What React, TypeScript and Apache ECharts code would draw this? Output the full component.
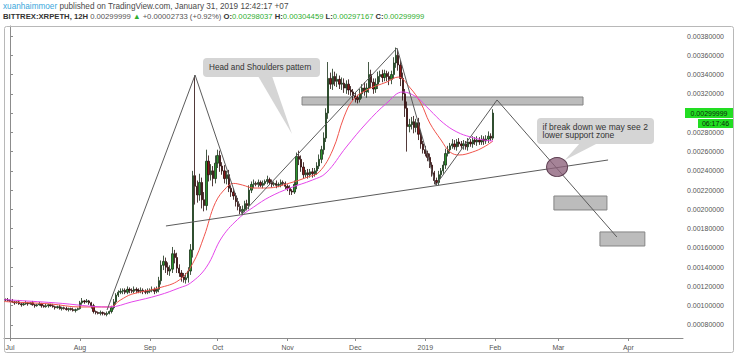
import React, { useEffect, useRef } from "react";
import * as echarts from "echarts";

const UNIT = 1e-5; // prices below are in units of 0.00001 ETH; x is days since 1 Jul 2018

const firstDay = -2; // first candle: 29 Jun 2018
const firstOpen = 106.5;
const closes = [
  106, 105.5,
  105, 104, 103, 104, 102, 101, 102, 103, 102, 103, 101, 100, 101, 102, 100, 99, 100, 101, 100, 99, 98, 99, 97, 98, 97, 96, 97, 96, 95, 96, 97,
  103, 105, 104, 105, 103, 100, 94, 93, 92, 93, 92, 91, 92, 94, 98, 104, 111, 114, 115, 116, 114, 117, 116, 115, 117, 116, 115, 116, 115, 114, 115,
  116, 117, 115, 117, 126, 142, 146, 140, 136, 138, 154, 150, 139, 134, 130, 127, 129, 136, 158, 235, 224, 215, 228, 210, 204, 250, 236, 240, 232, 248,
  256, 245, 240, 232, 236, 222, 218, 214, 208, 203, 198, 200, 206, 204, 220, 226, 227, 226, 228, 225, 227, 229, 231, 228, 226, 227, 225, 226, 228, 227, 224,
  222, 219, 218, 226, 255, 252, 244, 236, 238, 236, 239, 237, 240, 245, 252, 262, 274, 300, 336, 330, 338, 333, 335, 330, 331, 326, 330, 324, 322, 318,
  316, 314, 320, 326, 322, 326, 340, 332, 325, 330, 338, 340, 337, 341, 338, 335, 340, 352, 360, 350, 336, 320, 305, 286, 288, 291, 285, 290, 278, 268, 262,
  258, 254, 246, 238, 230, 228, 236, 240, 246, 258, 262, 266, 268, 265, 270, 268, 266, 268, 265, 270, 268, 272, 270, 272, 270, 273, 271, 273, 276, 274, 300,
];
const wickUp = [
  1, 2,
  1, 2, 1, 1, 2, 1, 1, 2, 1, 1, 2, 1, 1, 2, 1, 1, 2, 1, 1, 2, 1, 1, 2, 1, 1, 2, 1, 1, 2, 1, 1,
  2, 3, 1, 2, 1, 1, 2, 1, 1, 2, 1, 1, 2, 1, 2, 3, 2, 2, 3, 2, 2, 3, 2, 2, 3, 2, 2, 3, 2, 2, 3,
  2, 3, 2, 3, 4, 5, 6, 4, 5, 4, 7, 4, 5, 4, 3, 4, 5, 4, 6, 5, 104, 6, 9, 5, 8, 12, 6, 7, 5, 8,
  6, 5, 4, 6, 4, 5, 3, 4, 3, 4, 3, 4, 3, 4, 5, 3, 4, 2, 3, 2, 3, 2, 4, 2, 3, 2, 3, 2, 3, 2, 2,
  2, 3, 2, 4, 4, 6, 4, 5, 3, 4, 3, 4, 3, 4, 5, 4, 6, 5, 17, 6, 8, 5, 6, 4, 6, 5, 4, 5, 4, 3,
  4, 3, 5, 4, 6, 5, 13, 5, 4, 6, 5, 4, 5, 4, 3, 5, 4, 6, 8, 6, 5, 6, 5, 7, 6, 5, 6, 4, 5, 4, 3,
  4, 3, 4, 3, 2, 3, 4, 3, 4, 5, 4, 3, 5, 4, 3, 4, 3, 4, 3, 4, 3, 4, 3, 4, 3, 4, 3, 4, 5, 3, 4,
];
const wickDown = [
  1, 1,
  1, 1, 2, 1, 1, 2, 1, 1, 2, 1, 1, 2, 1, 1, 2, 1, 1, 2, 1, 1, 2, 1, 1, 2, 1, 1, 2, 1, 1, 2, 1,
  1, 2, 2, 1, 2, 3, 2, 2, 1, 2, 2, 1, 2, 1, 2, 2, 3, 2, 2, 3, 2, 2, 3, 2, 2, 3, 2, 2, 3, 2, 2,
  2, 2, 3, 2, 3, 4, 5, 6, 4, 5, 4, 6, 5, 4, 5, 3, 4, 5, 4, 8, 19, 8, 6, 9, 6, 5, 7, 6, 8, 5,
  5, 6, 4, 5, 6, 4, 5, 4, 5, 4, 3, 4, 3, 5, 4, 3, 4, 2, 3, 2, 3, 2, 3, 2, 3, 2, 3, 2, 3, 2, 3,
  3, 4, 3, 2, 5, 6, 5, 4, 3, 4, 3, 4, 3, 4, 3, 4, 5, 4, 6, 5, 6, 5, 6, 5, 6, 5, 6, 5, 4, 5,
  5, 4, 3, 5, 4, 6, 5, 6, 5, 4, 5, 6, 5, 4, 5, 6, 5, 4, 5, 6, 8, 7, 9, 26, 6, 5, 6, 5, 6, 5, 4,
  3, 4, 3, 4, 4, 3, 3, 4, 3, 4, 3, 4, 3, 3, 4, 3, 3, 4, 3, 4, 3, 4, 3, 4, 3, 3, 4, 3, 4, 3, 2,
];

// moving averages (day offset from Jul 1, value)
const redDays = [-2.66, 0, 18, 31, 44, 49, 54, 66, 75, 81, 86, 91, 96, 99, 103, 108, 114, 124, 132, 137, 143, 148, 152, 158, 167, 172, 177, 182, 186, 191, 195, 199, 205, 210, 214];
const redVals = [104.4, 104, 101.8, 98.7, 98.7, 106, 112, 118.5, 126.7, 144, 172, 207, 223, 227, 225.3, 222.2, 222.2, 227.4, 233.7, 238.8, 261.7, 296, 313.6, 324, 332.3, 337.4, 327, 310.5, 289.7, 272, 259.6, 256.5, 259.6, 264.8, 271];
const magDays = [-2.66, 0, 20, 44, 54, 66, 75, 80, 87, 94, 102, 108, 115, 124, 134, 140, 149, 158, 167, 174, 180, 186, 192, 198, 204, 210, 214];
const magVals = [106.4, 106, 103, 98.7, 104, 111, 118.5, 123.6, 140, 171.4, 192.1, 202.5, 212.9, 222.2, 230.5, 237.8, 264.8, 289.7, 310.5, 321.9, 316.7, 303.2, 289.7, 280.4, 275.2, 272, 271];

const monthDays = [0, 31, 62, 92, 123, 153, 184, 215, 243, 274];
const monthLabels = ["Jul", "Aug", "Sep", "Oct", "Nov", "Dec", "2019", "Feb", "Mar", "Apr"];
const priceTicks = [0.0008, 0.001, 0.0012, 0.0014, 0.0016, 0.0018, 0.002, 0.0022, 0.0024, 0.0026, 0.0028, 0.003, 0.0032, 0.0034, 0.0036, 0.0038];
// the 0.0030 label sits under the last-price tag, so it is not printed
const priceLabels = [0.0008, 0.001, 0.0012, 0.0014, 0.0016, 0.0018, 0.002, 0.0022, 0.0024, 0.0026, 0.0028, 0.0032, 0.0034, 0.0036, 0.0038];

// drawings
const patternDays = [43, 82, 102.8, 171.5, 188.7, 215.8, 268.9];
const patternVals = [95.6, 339.5, 195.3, 367.5, 225.4, 313.6, 171.4];
const necklineDays = [69.1, 265];
const necklineVals = [182.8, 251.3];
const zoneDays = [[129.4, 253.9], [241, 264.5], [261.4, 281.3]];
const zoneVals = [[316.7, 308.4], [213.9, 199.4], [176.6, 162]];
const circleDay = 242.4;
const circleVal = 244;
const lastPrice = 0.00299999;

const FONT = "Liberation Sans";

function buildOption() {
  const candles = closes.map((c, i) => {
    const o = i === 0 ? firstOpen : closes[i - 1];
    const hi = Math.max(o, c) + wickUp[i];
    const lo = Math.min(o, c) - wickDown[i];
    return [firstDay + i, o * UNIT, c * UNIT, lo * UNIT, hi * UNIT];
  });
  const labelFor = (v: number) => {
    let best = 0;
    monthDays.forEach((m, i) => {
      if (Math.abs(m - v) < Math.abs(monthDays[best] - v)) best = i;
    });
    return monthLabels[best];
  };
  const bubble = "#d5d5d5";
  return {
    animation: false,
    grid: { left: 4, right: 53, top: 26, bottom: 17 },
    xAxis: {
      type: "value",
      min: -2.66,
      max: 298.2,
      splitLine: { show: false },
      axisLine: { show: true, lineStyle: { color: "#8c8c8c", width: 1 } },
      axisTick: { show: true, customValues: monthDays, length: 3, lineStyle: { color: "#8c8c8c" } },
      axisLabel: {
        customValues: monthDays,
        formatter: (v: number) => labelFor(v),
        fontSize: 7,
        color: "#555",
        fontFamily: FONT,
        margin: 6,
      },
    },
    yAxis: {
      type: "value",
      position: "right",
      min: 0.000665,
      max: 0.003904,
      splitLine: { show: false },
      axisLine: { show: true, lineStyle: { color: "#8c8c8c", width: 1 } },
      axisTick: { show: true, customValues: priceTicks, length: 3, lineStyle: { color: "#8c8c8c" } },
      axisLabel: {
        customValues: priceLabels,
        formatter: (v: number) => v.toFixed(8),
        fontSize: 7,
        color: "#555",
        fontFamily: FONT,
        margin: 4,
      },
    },
    series: [
      {
        type: "candlestick",
        data: candles,
        barWidth: 1.8,
        z: 2,
        itemStyle: {
          color: "#2c962c",
          color0: "#8a1818",
          borderColor: "#163016",
          borderColor0: "#260808",
          borderWidth: 0.8,
        },
        markLine: {
          silent: true,
          symbol: ["none", "none"],
          label: { show: false },
          lineStyle: { color: "#8ee88e", width: 1, type: "solid" },
          data: [{ yAxis: lastPrice }],
        },
      },
      {
        type: "line",
        data: redDays.map((d, i) => [d, redVals[i] * UNIT]),
        smooth: 0.4,
        symbol: "none",
        z: 3,
        lineStyle: { color: "#f0544c", width: 1 },
      },
      {
        type: "line",
        data: magDays.map((d, i) => [d, magVals[i] * UNIT]),
        smooth: 0.4,
        symbol: "none",
        z: 3,
        lineStyle: { color: "#e447ea", width: 1 },
      },
      {
        type: "line",
        data: [],
        z: 4,
        markArea: {
          silent: true,
          itemStyle: { color: "rgba(176,176,176,0.85)", borderColor: "#858585", borderWidth: 1 },
          data: zoneDays.map((zd, i) => [
            { xAxis: zd[0], yAxis: zoneVals[i][0] * UNIT },
            { xAxis: zd[1], yAxis: zoneVals[i][1] * UNIT },
          ]),
        },
      },
      {
        type: "line",
        data: patternDays.map((d, i) => [d, patternVals[i] * UNIT]),
        symbol: "none",
        z: 5,
        lineStyle: { color: "#5b5b5b", width: 1 },
      },
      {
        type: "line",
        data: necklineDays.map((d, i) => [d, necklineVals[i] * UNIT]),
        symbol: "none",
        z: 5,
        lineStyle: { color: "#5b5b5b", width: 1 },
      },
      {
        type: "scatter",
        data: [[circleDay, circleVal * UNIT]],
        symbol: "circle",
        symbolSize: [21, 19],
        z: 6,
        itemStyle: { color: "rgba(140,96,122,0.78)", borderColor: "#5e3f52", borderWidth: 1, opacity: 1 },
      },
    ],
    graphic: [
      {
        type: "rect",
        shape: { x: 4.5, y: 26.5, width: 729, height: 326, r: 2 },
        style: { fill: "none", stroke: "#b8b8b8", lineWidth: 1 },
        z: 1,
        silent: true,
      },
      {
        type: "text",
        x: 3,
        y: 6,
        style: {
          text: "{u|xuanhaimmoer}{t| published on TradingView.com, January 31, 2019 12:42:17 +07}",
          verticalAlign: "middle",
          rich: {
            u: { fill: "#3ba7dc", fontSize: 8.2, fontFamily: FONT },
            t: { fill: "#4a4a4a", fontSize: 8.2, fontFamily: FONT },
          },
        },
      },
      {
        type: "text",
        x: 3,
        y: 16.5,
        style: {
          text:
            "{b|BITTREX:XRPETH, 12H} {n|0.00299999} {g|▲} {n|+0.00002733 (+0.92%)} {b|O:}{g|0.00298037} {b|H:}{g|0.00304459} {b|L:}{g|0.00297167} {b|C:}{g|0.00299999}",
          verticalAlign: "middle",
          fontSize: 7.7,
          fontFamily: FONT,
          rich: {
            b: { fill: "#333", fontSize: 7.7, fontWeight: "bold", fontFamily: FONT },
            n: { fill: "#555", fontSize: 7.7, fontFamily: FONT },
            g: { fill: "#2fae2f", fontSize: 7.7, fontFamily: FONT },
          },
        },
      },
      {
        type: "group",
        z: 20,
        children: [
          { type: "rect", shape: { x: 203, y: 58, width: 117, height: 19, r: 4 }, style: { fill: bubble } },
          { type: "polygon", shape: { points: [[258, 76], [272, 76], [292, 134]] }, style: { fill: bubble } },
          {
            type: "text",
            x: 209,
            y: 67.5,
            style: { text: "Head and Shoulders pattern", fill: "#333", fontSize: 8.2, fontFamily: FONT, verticalAlign: "middle" },
          },
        ],
      },
      {
        type: "group",
        z: 20,
        children: [
          { type: "rect", shape: { x: 537, y: 118, width: 117, height: 26, r: 4 }, style: { fill: bubble } },
          { type: "polygon", shape: { points: [[580, 143], [598, 143], [565, 160]] }, style: { fill: bubble } },
          {
            type: "text",
            x: 542.5,
            y: 122.5,
            style: {
              text: "if break down we may see 2\nlower support zone",
              fill: "#333",
              fontSize: 8.5,
              lineHeight: 8.5,
              fontFamily: FONT,
              verticalAlign: "top",
            },
          },
        ],
      },
      {
        type: "group",
        z: 20,
        children: [
          { type: "rect", shape: { x: 685, y: 108, width: 48, height: 10 }, style: { fill: "#22dd22" } },
          {
            type: "text",
            x: 709,
            y: 113,
            style: { text: "0.00299999", fill: "#0a2a0a", fontSize: 7, fontFamily: FONT, align: "center", verticalAlign: "middle" },
          },
          { type: "rect", shape: { x: 698, y: 119, width: 35, height: 9 }, style: { fill: "#22dd22" } },
          {
            type: "text",
            x: 715.5,
            y: 123.5,
            style: { text: "06:17:46", fill: "#0a2a0a", fontSize: 7, fontFamily: FONT, align: "center", verticalAlign: "middle" },
          },
        ],
      },
    ],
  };
}

export default function App() {
  const ref = useRef<HTMLDivElement>(null);
  useEffect(() => {
    document.body.style.margin = "0";
    const chart = echarts.init(ref.current as HTMLDivElement, null, { renderer: "svg" });
    chart.setOption(buildOption() as any);
    return () => chart.dispose();
  }, []);
  return <div ref={ref} style={{ width: 736, height: 355, background: "#fff" }} />;
}
